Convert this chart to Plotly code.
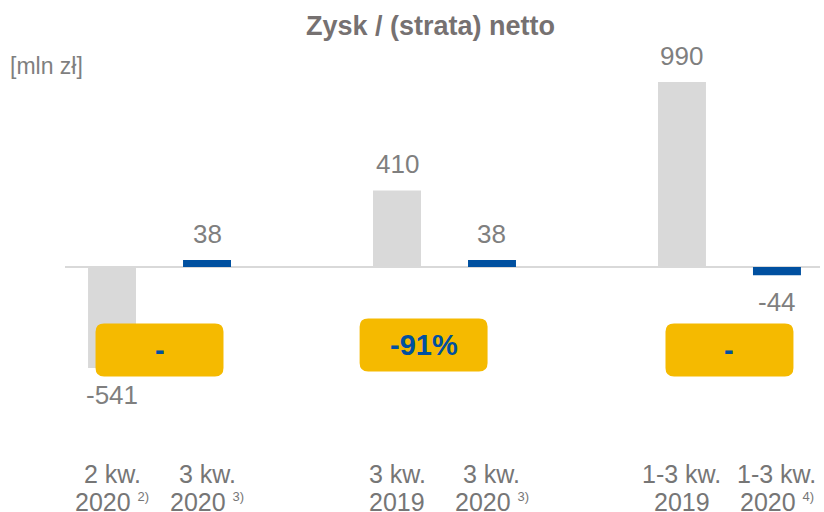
import plotly.graph_objects as go

# ---- data ----
line1 = ["2 kw.", "3 kw.", "3 kw.", "3 kw.", "1-3 kw.", "1-3 kw."]
line2 = ["2020", "2020", "2019", "2020", "2019", "2020"]
notes = ["2)", "3)", "", "3)", "", "4)"]
values = [-541, 38, 410, 38, 990, -44]
kinds = ["prev", "curr", "prev", "curr", "prev", "curr"]
value_labels = ["-541", "38", "410", "38", "990", "-44"]
badge_labels = ["-", "-91%", "-"]

title = "Zysk / (strata) netto"
unit = "[mln zł]"

GRAY_BAR = "#D9D9D9"
BLUE = "#0050A0"
GOLD = "#F5BA00"
TXT = "#7F7F7F"
FONT = "Liberation Sans, Arial, sans-serif"

# positions: pairs separated by a gap slot
xpos = [(i // 2) * 3 + (i % 2) for i in range(len(values))]
colors = [GRAY_BAR if k == "prev" else BLUE for k in kinds]

fig = go.Figure()
fig.add_trace(go.Bar(x=xpos, y=values, marker_color=colors, width=0.505,
                     marker_line_width=0, hoverinfo="skip"))

# value labels
for x, v, t in zip(xpos, values, value_labels):
    fig.add_annotation(x=x, y=v, text=t, showarrow=False,
                       yanchor="middle", yshift=26 if v >= 0 else -27,
                       font=dict(family=FONT, size=26, color=TXT))

# x category labels (two lines)
for x, a, b, n in zip(xpos, line1, line2, notes):
    sup = f" <sup><span style='font-size:13px'>{n}</span></sup>" if n else ""
    fig.add_annotation(x=x, y=1 - 474 / 512, yref="paper", text=a,
                       showarrow=False, yanchor="middle",
                       font=dict(family=FONT, size=25, color="#767676"))
    fig.add_annotation(x=x, y=1 - 502 / 512, yref="paper", text=f"{b}{sup}",
                       showarrow=False, yanchor="middle",
                       font=dict(family=FONT, size=25, color="#767676"))

# badges (rounded rectangles)
badge_cx = [0.5, 3.28, 6.5]
badge_cy = [-444, -417, -444]
bw, bh = 1.347, 284
rx, ry = 0.09, 45
for cx, cy, lab in zip(badge_cx, badge_cy, badge_labels):
    x0, x1 = cx - bw / 2, cx + bw / 2
    y0, y1 = cy - bh / 2, cy + bh / 2
    path = (f"M {x0+rx},{y0} L {x1-rx},{y0} Q {x1},{y0} {x1},{y0+ry} "
            f"L {x1},{y1-ry} Q {x1},{y1} {x1-rx},{y1} L {x0+rx},{y1} "
            f"Q {x0},{y1} {x0},{y1-ry} L {x0},{y0+ry} Q {x0},{y0} {x0+rx},{y0} Z")
    fig.add_shape(type="path", path=path, xref="x", yref="y",
                  fillcolor=GOLD, line_width=0, layer="above")
    fig.add_annotation(x=cx, y=cy, text=f"<b>{lab}</b>", showarrow=False,
                       font=dict(family=FONT, size=29, color=BLUE))

fig.add_annotation(x=(430 - 65) / 755, y=1 - 26 / 512, xref="paper", yref="paper",
                   xanchor="center", yanchor="middle", text=f"<b>{title}</b>",
                   showarrow=False, font=dict(family=FONT, size=27, color="#767171"))
fig.add_annotation(x=(8 - 65) / 755, y=1 - 66 / 512, xref="paper", yref="paper",
                   xanchor="left", yanchor="middle", text=unit, showarrow=False,
                   font=dict(family=FONT, size=23, color="#7F7F7F"))

fig.update_layout(
    width=824, height=512,
    margin=dict(l=65, r=4, t=0, b=0),
    paper_bgcolor="white", plot_bgcolor="white",
    showlegend=False,
    xaxis=dict(range=[-0.495, 7.453], visible=False, fixedrange=True),
    yaxis=dict(range=[-1311, 1429], showgrid=False, showticklabels=False,
               zeroline=True, zerolinecolor="#D9D9D9", zerolinewidth=2,
               fixedrange=True),
)

fig.write_html("out.html", config={"displayModeBar": False},
               post_script="document.body.style.margin='0';document.body.style.overflow='hidden';")
